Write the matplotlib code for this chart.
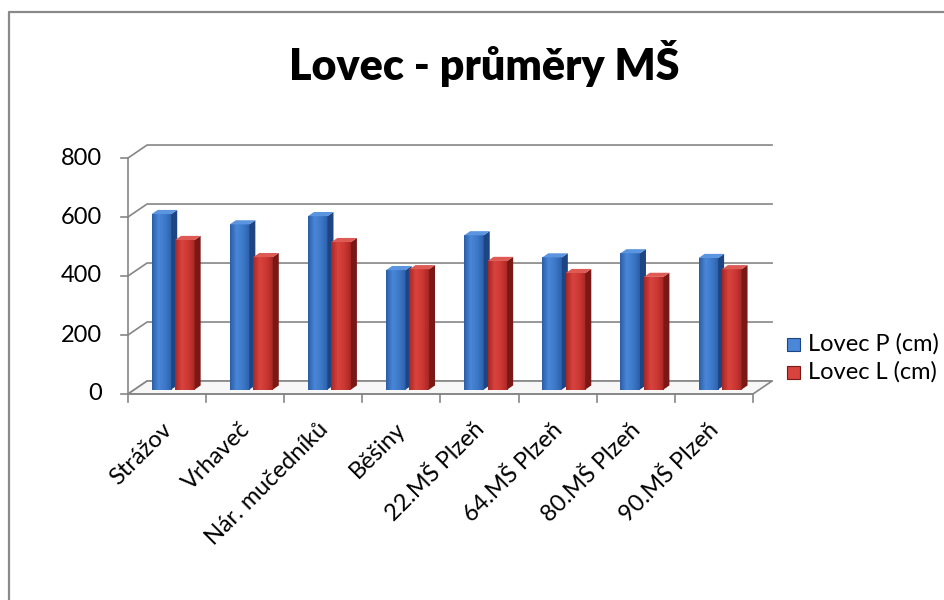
import matplotlib.pyplot as plt
import numpy as np
from matplotlib.colors import to_rgb
from matplotlib.lines import Line2D
from matplotlib.patches import Polygon, Rectangle

plt.rcParams["font.family"] = ["Lato", "DejaVu Sans"]

schools = [
    "Strážov",
    "Vrhaveč",
    "Nár. mučedníků",
    "Běšiny",
    "22.MŠ Plzeň",
    "64.MŠ Plzeň",
    "80.MŠ Plzeň",
    "90.MŠ Plzeň",
]
lovec_p = [595, 560, 588, 405, 523, 448, 462, 446]
lovec_l = [507, 449, 500, 408, 436, 395, 382, 408]
series_names = ["Lovec P (cm)", "Lovec L (cm)"]
y_ticks = [0, 200, 400, 600, 800]

# pseudo-3d geometry, in data units (x: categories, y: values)
DX, DY = 0.244, 44  # floor depth
BX, BY = 0.077, 14  # bar depth
FX, FY = 0.083, 15  # bar front face shift from floor front
BAR_W = 0.25
OFFSETS = [-0.28, 0.02]

styles = [
    dict(front=["#2a5da6", "#4a87d8", "#3c78c8", "#2c60aa"], side="#1d4583", top="#5b95e0"),
    dict(front=["#a82623", "#d8433e", "#cc3833", "#a82724"], side="#7a1816", top="#de5a55"),
]
GRID = "#868686"
FS = 17


def gradient(stops, n=64):
    pos = np.linspace(0, 1, len(stops))
    t = np.linspace(0, 1, n)
    rgb = np.array([to_rgb(c) for c in stops])
    return np.stack([np.interp(t, pos, rgb[:, k]) for k in range(3)], axis=-1)[None, :, :]


fig = plt.figure(figsize=(9.44, 6.0), dpi=100)
ax = fig.add_axes([128 / 944, 206 / 600, 625 / 944, 236 / 600])
ax.set_axis_off()

n = len(schools)
x_lo, x_hi = -0.5, n - 0.5

# side wall and back wall gridlines
for v in y_ticks:
    ax.plot([x_lo, x_lo + DX, x_hi + DX], [v, v + DY, v + DY], color=GRID, lw=1.2,
            solid_joinstyle="miter", clip_on=False, zorder=1)

# floor
floor = Polygon([(x_lo, 0), (x_hi, 0), (x_hi + DX, DY), (x_lo + DX, DY)], closed=True,
                fc="#f7f7f7", ec=GRID, lw=1.2, clip_on=False, zorder=2)
ax.add_patch(floor)

# y axis with ticks and labels
ax.plot([x_lo, x_lo], [0, y_ticks[-1]], color=GRID, lw=1.2, clip_on=False, zorder=3)
for v in y_ticks:
    ax.plot([x_lo - 0.09, x_lo], [v, v], color=GRID, lw=1.2, clip_on=False, zorder=3)
    ax.text(x_lo - 0.33, v, str(v), ha="right", va="center", fontsize=FS, clip_on=False)

# x axis ticks and labels
ax.plot([x_lo, x_hi], [0, 0], color=GRID, lw=1.2, clip_on=False, zorder=3)
for b in np.arange(n + 1) - 0.5:
    ax.plot([b, b], [0, -27], color=GRID, lw=1.2, clip_on=False, zorder=3)
for i, name in enumerate(schools):
    ax.text(i - 0.08, -84, name, rotation=45, rotation_mode="anchor", ha="right",
            va="top", fontsize=FS, clip_on=False)

# bars
z = 10
for i in range(n):
    for values, off, st in zip([lovec_p, lovec_l], OFFSETS, styles):
        v = values[i]
        x0 = i + FX + off
        x1 = x0 + BAR_W
        y0 = FY
        ax.imshow(gradient(st["front"]), extent=(x0, x1, y0, y0 + v), aspect="auto",
                  interpolation="bilinear", zorder=z)
        ax.add_patch(Polygon([(x1, y0), (x1 + BX, y0 + BY), (x1 + BX, y0 + v + BY), (x1, y0 + v)],
                             closed=True, fc=st["side"], ec="none", zorder=z + 0.1))
        ax.add_patch(Polygon([(x0, y0 + v), (x1, y0 + v), (x1 + BX, y0 + v + BY), (x0 + BX, y0 + v + BY)],
                             closed=True, fc=st["top"], ec="none", zorder=z + 0.2))
        z += 1

ax.set_xlim(x_lo, x_hi)
ax.set_ylim(0, y_ticks[-1])

# title
fig.text(484 / 944, 1 - 80 / 600, "Lovec - průměry MŠ", ha="center", va="baseline",
         fontsize=31, fontweight="heavy")

# legend
for k, (name, st) in enumerate(zip(series_names, styles)):
    yc = 1 - (344 + 28 * k) / 600
    sq = Rectangle((787 / 944, yc - 6.5 / 600), 13 / 944, 13 / 600, transform=fig.transFigure,
                   fc=st["front"][1], ec=st["side"], lw=0.8)
    fig.add_artist(sq)
    fig.text(808 / 944, yc, name, ha="left", va="center", fontsize=FS)

# chart area border
fig.add_artist(Line2D([9 / 944, 9 / 944, 1], [0, 1 - 12 / 600, 1 - 12 / 600],
                      transform=fig.transFigure, color="#8a8a8a", lw=1.6))

fig.savefig("out.png", dpi=100)
